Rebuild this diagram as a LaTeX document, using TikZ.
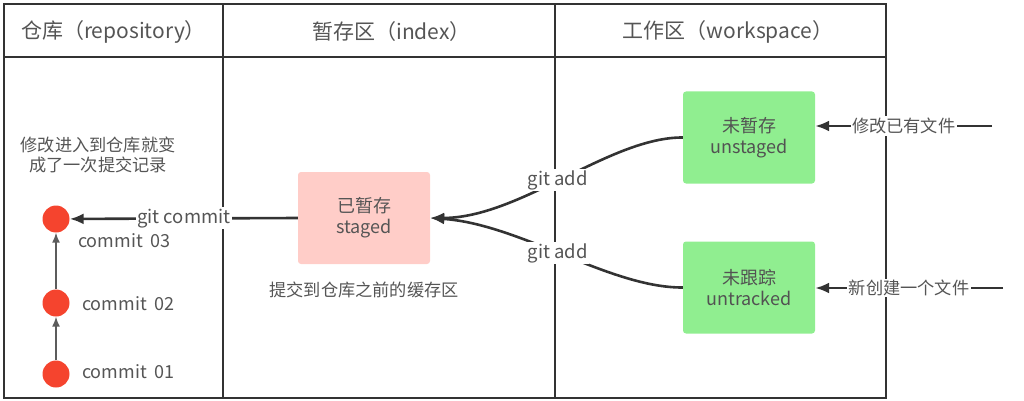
\documentclass[tikz,border=0pt]{standalone}
\usepackage{fontspec}
\setmainfont{Noto Sans CJK SC}
\usetikzlibrary{arrows.meta}
\definecolor{txt}{HTML}{555555}
\definecolor{ln}{HTML}{333333}
\definecolor{dotred}{HTML}{F5442E}
\definecolor{pinkfill}{HTML}{FFCDC8}
\definecolor{greenfill}{HTML}{90EE90}
\tikzset{
  frame/.style={draw=ln, line width=2.8pt},
  hdr/.style={text=txt, font=\fontsize{21}{24}\selectfont, inner sep=0pt},
  note/.style={text=txt, font=\fontsize{17.2}{19.5}\selectfont, align=center, inner sep=0pt},
  cdot/.style={circle, fill=dotred, minimum size=27pt, inner sep=0pt},
  clabel/.style={text=txt, font=\fontsize{18}{20}\selectfont, anchor=west, inner sep=0pt},
  stbox/.style={rectangle, rounded corners=3pt, minimum width=132pt, minimum height=92pt, align=center, text=txt, font=\fontsize{18}{21}\selectfont},
  stagedbox/.style={stbox, fill=pinkfill},
  wsbox/.style={stbox, fill=greenfill, text=ln!85},
  arr/.style={draw=ln, line width=2.6pt, -{Latex[length=14pt,width=11pt]}},
  thinarr/.style={draw=ln!80, line width=1.5pt, -{Latex[length=10pt,width=8pt]}},
  lbl/.style={fill=white, text=txt, font=\fontsize{18.5}{20}\selectfont, inner sep=1.5pt},
  cjklbl/.style={lbl, font=\fontsize{17.2}{20}\selectfont},
}
\begin{document}
\begin{tikzpicture}[x=1pt,y=-1pt]
\useasboundingbox (0,0) rectangle (1024,401);
% frame
\draw[frame] (4,4) rectangle (886,398);
\draw[frame] (4,57) -- (886,57);
\draw[frame] (223,4) -- (223,398);
\draw[frame] (555,4) -- (555,398);
% headers
\node[hdr] (h1) at (113.5,32) {仓库（repository）};
\node[hdr] (h2) at (391.5,32) {暂存区（index）};
\node[hdr] (h3) at (728,32) {工作区（workspace）};
% repository
\node[note] (n1) at (98,155) {修改进入到仓库就变\\成了一次提交记录};
\node[cdot] (c3) at (56,219) {};
\node[cdot] (c2) at (56,303) {};
\node[cdot] (c1) at (56,374) {};
\node[clabel] (l3) at (78,241) {commit\ \ 03};
\node[clabel] (l2) at (82,304) {commit\ \ 02};
\node[clabel] (l1) at (82,372) {commit\ \ 01};
\draw[thinarr] (c1) -- (c2);
\draw[thinarr] (c2) -- (c3);
% index
\node[stagedbox] (st) at (364,218) {已暂存\\staged};
\node[note] (n2) at (364,290) {提交到仓库之前的缓存区};
% workspace
\node[wsbox] (un) at (749,137.5) {未暂存\\unstaged};
\node[wsbox] (ut) at (749,287.5) {未跟踪\\untracked};
\coordinate (e1) at (992,126);
\coordinate (e2) at (1003,288);
\draw[arr] (e1) -- node[cjklbl] {修改已有文件} (e1 -| un.east);
\draw[arr] (e2) -- node[cjklbl] {新创建一个文件} (e2 -| ut.east);
\draw[arr] (un.west) .. controls (610,137) and (520,218) .. node[lbl, pos=0.52] {git add} (st.east);
\draw[arr] (ut.west) .. controls (610,288) and (520,224) .. node[lbl, pos=0.52] {git add} (st.east);
\draw[arr] (st.west) -- node[lbl] {git commit} (c3);
\end{tikzpicture}
\end{document}
